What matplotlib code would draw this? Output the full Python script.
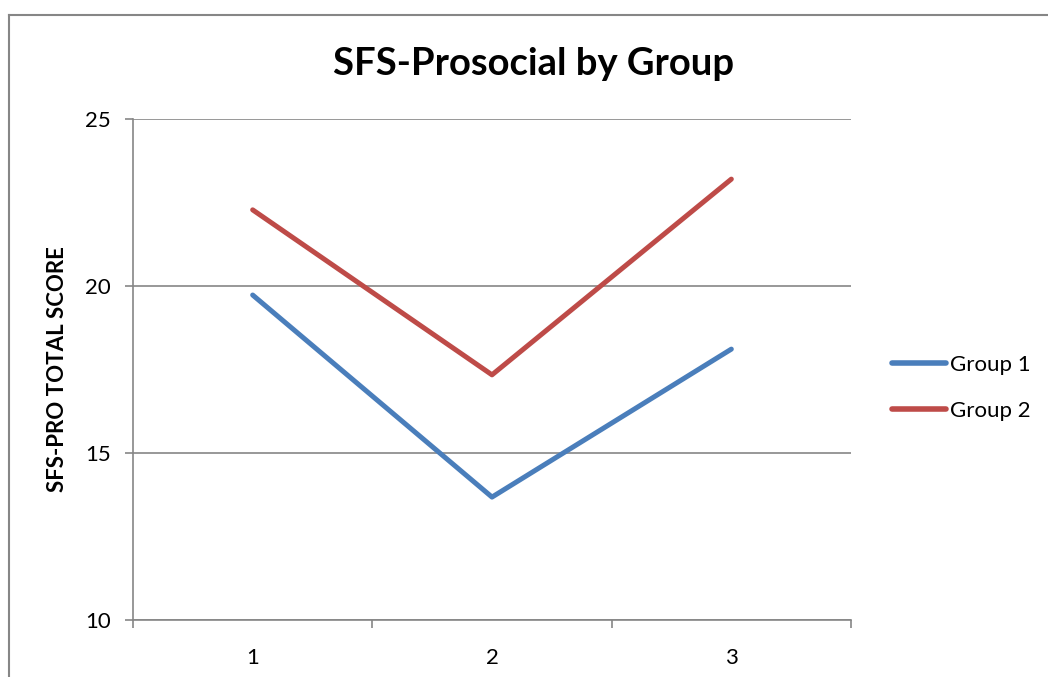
import matplotlib
matplotlib.use("Agg")
import matplotlib.pyplot as plt
from matplotlib.lines import Line2D

categories = ["1", "2", "3"]
group1 = [19.73, 13.68, 18.11]
group2 = [22.28, 17.34, 23.2]
series_names = ["Group 1", "Group 2"]
yticks = [10, 15, 20, 25]

plt.rcParams['font.family'] = ['Lato', 'DejaVu Sans']

W, H = 1048, 677
fig = plt.figure(figsize=(W / 100, H / 100), dpi=100)
ax = fig.add_axes([133 / W, (H - 620) / H, (851 - 133) / W, (620 - 119) / H])

x = [0, 1, 2]
ax.plot(x, group1, color='#4A7EBB', lw=3.6, solid_capstyle='round', label=series_names[0])
ax.plot(x, group2, color='#BE4B48', lw=3.6, solid_capstyle='round', label=series_names[1])

ax.set_xlim(-0.5, 2.5)
ax.set_ylim(10, 25)
ax.set_yticks(yticks)
ax.set_yticklabels([str(v) for v in yticks], fontsize=16)
ax.set_xticks(x)
ax.set_xticklabels(categories, fontsize=16)
ax.set_xticks([-0.5, 0.5, 1.5, 2.5], minor=True)
ax.tick_params(axis='x', which='major', length=0, pad=20)
ax.tick_params(axis='x', which='minor', length=6, color='#868686', width=1.2)
ax.tick_params(axis='y', length=6, color='#868686', width=1.2, pad=10)
ax.grid(axis='y', color='#868686', lw=1.2)
ax.set_axisbelow(True)
for s in ['top', 'right']:
    ax.spines[s].set_visible(False)
for s in ['left', 'bottom']:
    ax.spines[s].set_color('#868686')
    ax.spines[s].set_linewidth(1.2)

ax.set_ylabel("SFS-PRO TOTAL SCORE", fontsize=16, fontweight='bold', labelpad=12)

fig.text(534 / W, 1 - 64 / H, "SFS-Prosocial by Group", fontsize=27.5, fontweight='bold',
         ha='center', va='center')

leg = fig.legend(loc='center left', bbox_to_anchor=(872 / W, 1 - 388 / H), frameon=False,
                 fontsize=16, handlelength=2.45, handletextpad=0.15, labelspacing=1.15)
for h in leg.legend_handles:
    h.set_linewidth(4)

fig.add_artist(Line2D([8.5 / W, 8.5 / W], [0, 1 - 14.5 / H], transform=fig.transFigure,
                      color='#868686', lw=1.5))
fig.add_artist(Line2D([8.5 / W, 1], [1 - 14.5 / H, 1 - 14.5 / H], transform=fig.transFigure,
                      color='#868686', lw=1.5))

fig.savefig("out.png", dpi=100)
